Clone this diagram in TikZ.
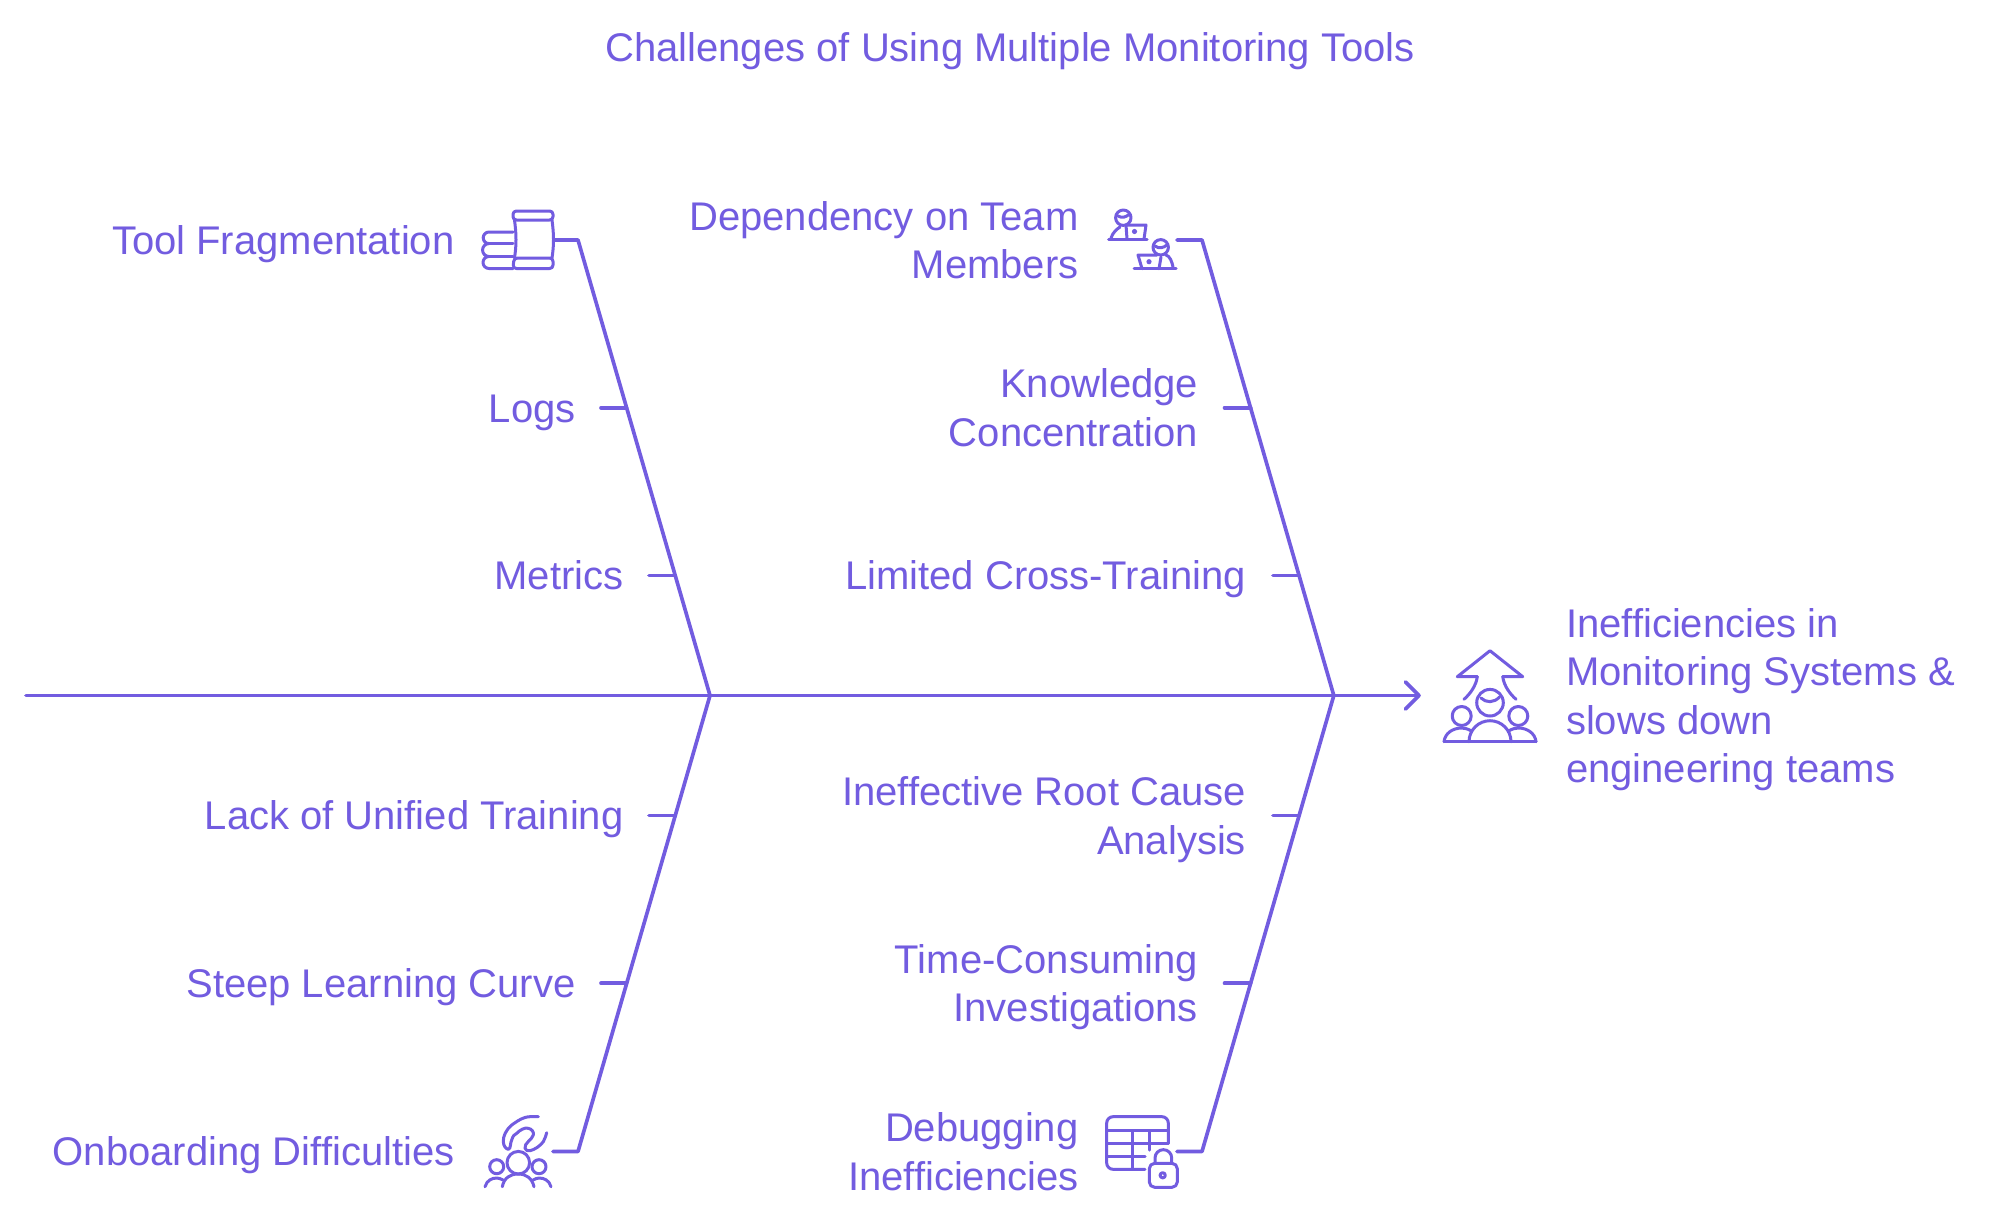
\documentclass[tikz,border=0pt]{standalone}
\usepackage{fontspec}
\setmainfont{Liberation Sans}
\definecolor{vio}{HTML}{725CE0}
\newcommand{\St}{\rule[-7.25pt]{0pt}{36pt}}
\tikzset{
 bone/.style={draw=vio,line width=2.75pt,line cap=round,line join=round},
 ico/.style={draw=vio,line width=2.25pt,line cap=round,line join=round},
 lbl/.style={text=vio,font=\fontsize{30}{36.3}\selectfont,inner sep=0pt,outer sep=0pt},
 lr/.style={lbl,anchor=east,align=right},
 ll/.style={lbl,anchor=west,align=left},
}
\begin{document}
\begin{tikzpicture}[x=0.75pt,y=-0.75pt]
\useasboundingbox (0,0) rectangle (1994,1224);
\fill[white] (0,0) rectangle (1994,1224);
% coordinates
\coordinate (start) at (26,695.5);
\coordinate (tip) at (1419,695.5);
\coordinate (jL) at (710,695.5);
\coordinate (jR) at (1333.8,695.5);
\coordinate (tL1) at (578,240); \coordinate (bL1) at (578,1151.5);
\coordinate (tR1) at (1202,240); \coordinate (bR1) at (1202,1151.5);
\coordinate (sa) at (555,240); \coordinate (sb) at (601,407.7); \coordinate (sc) at (649,575.4);
\coordinate (sd) at (649,815.6); \coordinate (se) at (601,983.3); \coordinate (sf) at (553,1151.5);
\coordinate (sg) at (1177,240); \coordinate (sh) at (1224.5,407.7); \coordinate (si) at (1273,575.4);
\coordinate (sj) at (1273,815.6); \coordinate (sk) at (1224.5,983.3); \coordinate (sl) at (1177,1151.5);
\coordinate (eb) at (626.5,407.7); \coordinate (ec) at (675,575.4);
\coordinate (ed) at (675,815.6); \coordinate (ee) at (626.5,983.3);
\coordinate (eh) at (1250.7,407.7); \coordinate (ei) at (1299.2,575.4);
\coordinate (ej) at (1299.2,815.6); \coordinate (ek) at (1250.7,983.3);
% connectors
\draw[bone] (start) -- (tip);
\draw[bone] (1405.5,682) -- (tip) -- (1405.5,709);
\draw[bone] (sa) -- (tL1) -- (jL) -- (bL1) -- (sf);
\draw[bone] (sg) -- (tR1) -- (jR) -- (bR1) -- (sl);
\draw[bone] (sb) -- (eb); \draw[bone] (sc) -- (ec);
\draw[bone] (sd) -- (ed); \draw[bone] (se) -- (ee);
\draw[bone] (sh) -- (eh); \draw[bone] (si) -- (ei);
\draw[bone] (sj) -- (ej); \draw[bone] (sk) -- (ek);
% labels
\node[lbl,anchor=center] (title) at (1010,47) {\St Challenges of Using Multiple Monitoring Tools};
\node[lr] (n1) at (454.5,240) {\St Tool Fragmentation};
\node[lr] (n2) at (575.5,407.7) {\St Logs};
\node[lr] (n3) at (623.5,575.4) {\St Metrics};
\node[lr] (n4) at (623.5,815.6) {\St Lack of Unified Training};
\node[lr] (n5) at (575.5,983.3) {\St Steep Learning Curve};
\node[lr] (n6) at (454.5,1151.5) {\St Onboarding Difficulties};
\node[lr] (m1) at (1078.5,240) {\St Dependency on Team\\\St Members};
\node[lr] (m2) at (1198,407.7) {\St Knowledge\\\St Concentration};
\node[lr] (m3) at (1246,575.4) {\St Limited Cross-Training};
\node[lr] (m4) at (1246,815.6) {\St Ineffective Root Cause\\\St Analysis};
\node[lr] (m5) at (1198,983.3) {\St Time-Consuming\\\St Investigations};
\node[lr] (m6) at (1078.5,1151.5) {\St Debugging\\\St Inefficiencies};
\node[ll] (eff) at (1566,695.5) {\St Inefficiencies in\\\St Monitoring Systems \&\\\St slows down\\\St engineering teams};
% icon: tools
\draw[ico,rounded corners=2.5] (513,211) rectangle (553,220);
\draw[ico] (514.5,220) .. controls (516.5,235) and (516.5,245) .. (514.5,258);
\draw[ico] (552,220) .. controls (554,235) and (554,245) .. (552,258);
\draw[ico,rounded corners=2.5] (514,258) -- (553,258) -- (553,268.5) -- (513,268.5) -- cycle;
\draw[ico] (513,232) -- (489,232) arc (270:90:5.8) arc (270:90:6.45) arc (270:90:6) -- (513,268.5);
\draw[ico] (489,243.6) -- (513,243.6);
\draw[ico] (489,256.5) -- (513,256.5);
% icon: dependency
\draw[ico] (1123.3,217.7) circle (7.7);
\draw[ico] (1118,216) .. controls (1122,218.5) and (1126,217) .. (1129,214.5);
\draw[ico] (1108.5,239) -- (1147,239);
\draw[ico] (1126,225) -- (1146,225) -- (1144,239);
\draw[ico] (1127,239) -- (1126,225);
\draw[ico] (1111,238) .. controls (1113,232) and (1117,229) .. (1120,227);
\fill[vio] (1134.5,231.5) circle (2.6);
\draw[ico] (1160.7,247.3) circle (7.7);
\draw[ico] (1155,246) .. controls (1159,249) and (1163,248) .. (1167,245);
\draw[ico] (1134,268.7) -- (1176,268.7);
\draw[ico] (1157,255) -- (1138,255) -- (1142,268.7);
\draw[ico] (1159,268.7) -- (1161,257);
\draw[ico] (1166,255) .. controls (1170,256) and (1172,262) .. (1173,267);
\fill[vio] (1149,261.7) circle (2.6);
% icon: effect
\draw[ico] (1477.3,676.7) -- (1457.3,676.7) -- (1490,650.7) -- (1522.7,676.7) -- (1502.7,676.7);
\draw[ico] (1477.3,676.7) .. controls (1476,686) and (1470,694) .. (1464,699.3);
\draw[ico] (1502.7,676.7) .. controls (1504,686) and (1510,694) .. (1516,699.3);
\draw[ico] (1490,702.7) circle (13.3);
\draw[ico] (1481,698) .. controls (1486,703) and (1494,703) .. (1499.5,697);
\draw[ico] (1461.7,716) circle (9.5);
\draw[ico] (1518.3,716) circle (9.5);
\draw[ico] (1444,741.7) -- (1536,741.7);
\draw[ico] (1469,741.7) arc (180:360:21);
\draw[ico] (1444,741.7) .. controls (1445,733) and (1453,728) .. (1461.7,728) .. controls (1465,728) and (1468,729) .. (1471.5,731);
\draw[ico] (1536,741.7) .. controls (1535,733) and (1527,728) .. (1518.3,728) .. controls (1515,728) and (1512,729) .. (1508.5,731);
% icon: onboarding
\draw[ico] (518.3,1162.7) circle (11.3);
\draw[ico] (496.7,1166.7) circle (7);
\draw[ico] (539,1166.7) circle (7);
\draw[ico] (502.3,1186.7) .. controls (504,1178) and (510,1174) .. (518.3,1174) .. controls (526,1174) and (532,1178) .. (534,1186.7);
\draw[ico] (485,1186.7) .. controls (487,1180) and (492,1178) .. (497,1178) .. controls (499,1178) and (501,1179) .. (503,1180);
\draw[ico] (551,1186.7) .. controls (549,1180) and (544,1178) .. (539,1178) .. controls (537,1178) and (535,1179) .. (533,1180);
\draw[ico] (538.3,1116.7) .. controls (532,1116.5) and (528,1116.5) .. (525,1117.5) .. controls (520,1119) and (516,1122) .. (511.7,1125) .. controls (506,1130) and (503,1136) .. (503.3,1141.7) .. controls (503.5,1146) and (506,1149) .. (508.3,1149.3) .. controls (511,1149) and (510,1143) .. (511.7,1140) .. controls (513,1136) and (514,1134.5) .. (516.7,1133.3) .. controls (520,1130) and (525,1127) .. (528.3,1128.3) .. controls (532,1129) and (534,1132) .. (533.3,1135) .. controls (532,1140) and (524,1143) .. (525,1148.3) .. controls (526,1151) and (528,1151) .. (530,1150.7) .. controls (535,1149.5) and (540,1146) .. (543.3,1141.7) .. controls (545,1139) and (546,1135) .. (546.7,1132.7);
% icon: table with lock
\draw[ico] (1168.3,1143.3) -- (1168.3,1123) arc (0:-90:6.3) -- (1113,1116.7) arc (-90:-180:6.3) -- (1106.7,1163) arc (180:90:6.3) -- (1145,1169.3);
\draw[ico] (1106.7,1130.7) -- (1168.3,1130.7);
\draw[ico] (1106.7,1143.3) -- (1168.3,1143.3);
\draw[ico] (1106.7,1156.7) -- (1145,1156.7);
\draw[ico] (1132.7,1130.7) -- (1132.7,1169.3);
\draw[ico] (1149.3,1130.7) -- (1149.3,1150);
\draw[ico,rounded corners=4] (1149.3,1163.3) rectangle (1177.3,1187.3);
\draw[ico] (1155,1163.3) -- (1155,1158) arc (180:360:8.35) -- (1171.7,1163.3);
\draw[ico] (1162.7,1175.3) circle (2.6);
\end{tikzpicture}
\end{document}
